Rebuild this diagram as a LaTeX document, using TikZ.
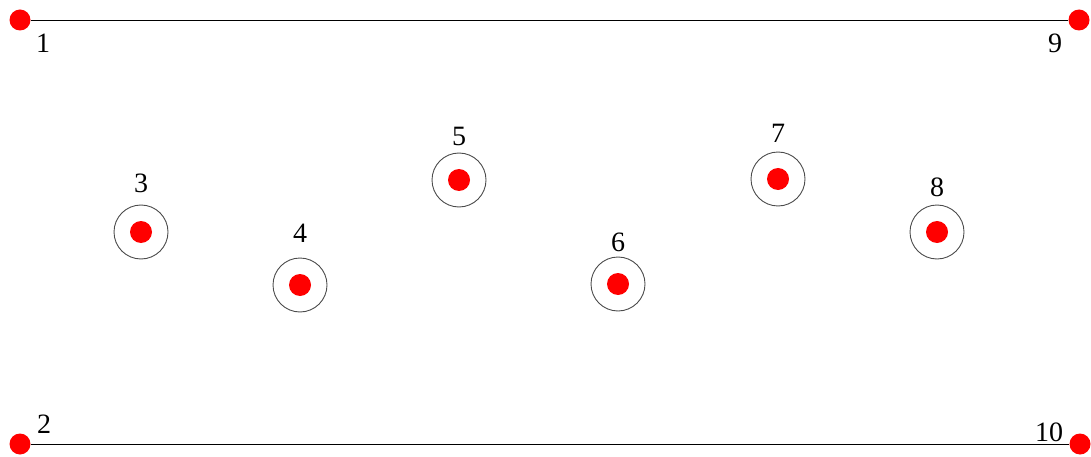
\documentclass[tikz,border=0pt]{standalone}
\usepackage{fontspec}
\setmainfont{Liberation Serif}

\begin{document}
\begin{tikzpicture}[x=1pt,y=-1pt,
  dot/.style={circle,fill=red,inner sep=0pt,minimum size=21pt},
  ring/.style={circle,draw=black!70,line width=0.9pt,inner sep=0pt,minimum size=54pt},
  num/.style={font=\fontsize{28}{30}\selectfont,inner sep=0pt}]
\useasboundingbox (0,0) rectangle (1091,457);
% corner points and the two rails
\node[dot] (p1) at (20,20) {};
\node[dot] (p9) at (1079,20) {};
\node[dot] (p2) at (20,444) {};
\node[dot] (p10) at (1080,444) {};
\draw[line width=0.8pt] (p1) -- (p9);
\draw[line width=0.8pt] (p2) -- (p10);
\node[num] (l1) at (43,43) {1};
\node[num] (l9) at (1055,43) {9};
\node[num] (l2) at (44,424) {2};
\node[num] (l10) at (1049,432) {10};
% ringed points
\foreach \n/\x/\y/\ly in {3/141/232/183, 4/300/285/233, 5/459/180/136,
                          6/618/284/242, 7/778/179/133, 8/937/232/187}{
  \node[ring] (r\n) at (\x,\y) {};
  \node[dot,minimum size=22pt] (p\n) at (r\n.center) {};
  \node[num] (l\n) at (\x,\ly) {\n};
}
\end{tikzpicture}
\end{document}
